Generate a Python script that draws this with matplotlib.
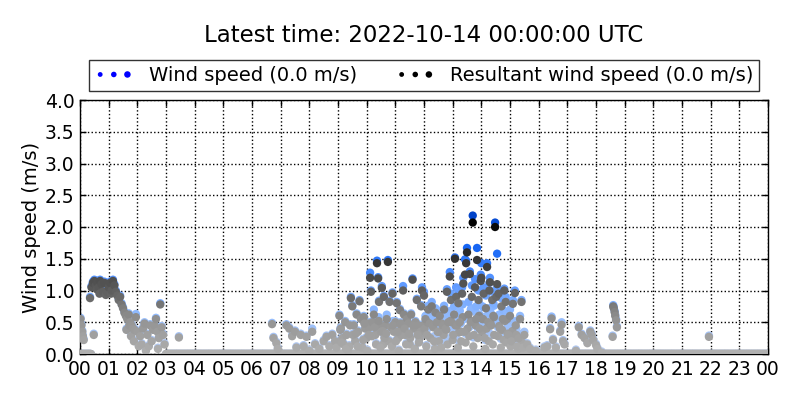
"""
Wind speed / resultant wind speed scatter for one day (UTC), classic look.
"""
import numpy as np
import matplotlib
matplotlib.use('Agg')
import matplotlib.pyplot as plt
from matplotlib.colors import LinearSegmentedColormap, Normalize
from matplotlib.legend_handler import HandlerPathCollection

TITLE = "Latest time: 2022-10-14 00:00:00 UTC"
WS_LABEL = "Wind speed (0.0 m/s)"
RWS_LABEL = "Resultant wind speed (0.0 m/s)"
HOUR_LABELS = ["%02d" % h for h in range(24)] + ["00"]
Y_TICKS = [0.0, 0.5, 1.0, 1.5, 2.0, 2.5, 3.0, 3.5, 4.0]

# calm periods (both speeds 0.0 m/s), start/end hour
calm_start = [0.0, 3.0]
calm_end = [0.4, 24.0]

# 00-03 UTC
night_hour = [0.02, 0.05, 0.08, 0.10, 0.13, 0.35, 0.40, 0.45, 0.48, 0.50,
              0.55, 0.58, 0.60, 0.65, 0.68, 0.70, 0.75, 0.80, 0.85, 0.90,
              0.95, 1.00, 1.05, 1.08, 1.10, 1.15, 1.20, 1.25, 1.30, 1.35,
              1.40, 1.45, 1.50, 1.55, 1.60, 1.62, 1.65, 1.70, 1.72, 1.75,
              1.78, 1.80, 1.85, 1.88, 1.90, 1.95, 2.00, 2.05, 2.10, 2.15,
              2.20, 2.25, 2.30, 2.35, 2.40, 2.45, 2.50, 2.55, 2.60, 2.65,
              2.70, 2.72, 2.75, 2.80, 2.85, 2.90, 2.95]
night_rws = [0.55, 0.45, 0.35, 0.28, 0.22, 0.88, 1.05, 1.12, 0.30, 1.15,
             1.08, 1.02, 1.13, 1.05, 0.95, 1.15, 1.10, 0.98, 1.12, 0.93,
             0.97, 1.05, 1.12, 0.95, 1.00, 1.15, 1.08, 0.98, 0.92, 0.85,
             0.90, 0.78, 0.72, 0.65, 0.60, 0.38, 0.55, 0.62, 0.45, 0.50,
             0.28, 0.45, 0.40, 0.20, 0.38, 0.58, 0.35, 0.12, 0.28, 0.15,
             0.40, 0.48, 0.05, 0.30, 0.12, 0.45, 0.20, 0.38, 0.45, 0.55,
             0.35, 0.08, 0.25, 0.78, 0.42, 0.30, 0.15]
night_ws = [0.57, 0.47, 0.37, 0.30, 0.24, 0.90, 1.07, 1.14, 0.32, 1.17,
            1.10, 1.04, 1.15, 1.07, 0.97, 1.17, 1.12, 1.00, 1.14, 0.95,
            0.99, 1.07, 1.14, 0.97, 1.02, 1.17, 1.10, 1.00, 0.94, 0.87,
            0.92, 0.80, 0.74, 0.67, 0.62, 0.40, 0.57, 0.64, 0.47, 0.52,
            0.30, 0.47, 0.42, 0.22, 0.40, 0.63, 0.37, 0.14, 0.30, 0.17,
            0.42, 0.50, 0.07, 0.32, 0.14, 0.47, 0.22, 0.40, 0.47, 0.57,
            0.37, 0.10, 0.27, 0.80, 0.44, 0.32, 0.17]

# 03-09 UTC
morning_hour = [3.45, 6.70, 6.75, 6.85, 6.90, 7.20, 7.30, 7.40, 7.50, 7.55,
                7.70, 7.80, 7.90, 8.00, 8.10, 8.20, 8.35, 8.50, 8.60, 8.70,
                8.80, 8.90, 8.95]
morning_rws = [0.26, 0.47, 0.25, 0.17, 0.08, 0.45, 0.40, 0.28, 0.35, 0.10,
               0.30, 0.12, 0.27, 0.05, 0.35, 0.15, 0.08, 0.20, 0.27, 0.12,
               0.30, 0.20, 0.10]
morning_ws = [0.28, 0.49, 0.27, 0.19, 0.10, 0.47, 0.42, 0.30, 0.37, 0.12,
              0.32, 0.14, 0.29, 0.07, 0.40, 0.17, 0.10, 0.22, 0.29, 0.14,
              0.32, 0.22, 0.12]

# 09-12 UTC
late_hour = [9.05, 9.10, 9.15, 9.20, 9.25, 9.30, 9.35, 9.40, 9.45, 9.50,
             9.55, 9.60, 9.65, 9.70, 9.75, 9.80, 9.85, 9.90, 9.95, 10.00,
             10.05, 10.10, 10.12, 10.15, 10.20, 10.25, 10.30, 10.36, 10.40, 10.43,
             10.45, 10.50, 10.53, 10.58, 10.60, 10.65, 10.70, 10.74, 10.78, 10.80,
             10.85, 10.90, 10.95, 11.00, 11.05, 11.10, 11.16, 11.20, 11.27, 11.30,
             11.35, 11.40, 11.45, 11.50, 11.55, 11.60, 11.65, 11.70, 11.75, 11.80,
             11.85, 11.90, 11.93, 11.97]
late_rws = [0.60, 0.40, 0.25, 0.15, 0.50, 0.30, 0.05, 0.12, 0.88, 0.75,
            0.45, 0.20, 0.62, 0.35, 0.83, 0.55, 0.10, 0.58, 0.40, 0.25,
            0.48, 0.42, 1.20, 0.98, 0.50, 0.62, 0.30, 1.43, 1.19, 0.82,
            0.45, 0.35, 1.04, 0.15, 0.90, 0.45, 0.55, 1.45, 0.20, 0.82,
            0.42, 0.95, 0.35, 0.50, 0.80, 0.25, 0.69, 0.45, 1.00, 0.62,
            0.30, 0.55, 0.48, 0.15, 0.62, 1.17, 0.40, 0.50, 0.85, 0.45,
            0.25, 0.75, 1.00, 0.45]
late_ws = [0.62, 0.42, 0.27, 0.17, 0.52, 0.32, 0.07, 0.14, 0.90, 0.77,
           0.47, 0.22, 0.64, 0.37, 0.85, 0.57, 0.12, 0.60, 0.42, 0.27,
           0.50, 0.44, 1.28, 1.00, 0.52, 0.70, 0.32, 1.47, 1.21, 0.84,
           0.47, 0.37, 1.07, 0.17, 0.92, 0.47, 0.62, 1.48, 0.22, 0.84,
           0.44, 0.97, 0.37, 0.52, 0.82, 0.27, 0.71, 0.47, 1.07, 0.64,
           0.32, 0.57, 0.50, 0.17, 0.64, 1.19, 0.42, 0.52, 0.87, 0.47,
           0.27, 0.77, 1.05, 0.47]

# 12-15.5 UTC
noon_hour = [12.00, 12.05, 12.10, 12.15, 12.20, 12.27, 12.30, 12.35, 12.40, 12.45,
             12.50, 12.55, 12.60, 12.65, 12.70, 12.75, 12.80, 12.85, 12.90, 12.94,
             12.97, 13.02, 13.05, 13.08, 13.12, 13.15, 13.20, 13.25, 13.30, 13.33,
             13.37, 13.40, 13.43, 13.47, 13.50, 13.55, 13.60, 13.63, 13.67, 13.70,
             13.74, 13.78, 13.82, 13.85, 13.90, 13.94, 13.98, 14.00, 14.04, 14.08,
             14.12, 14.16, 14.20, 14.24, 14.28, 14.30, 14.34, 14.38, 14.42, 14.45,
             14.48, 14.52, 14.55, 14.60, 14.65, 14.70, 14.75, 14.80, 14.85, 14.90,
             14.95, 15.00, 15.05, 15.10, 15.17, 15.20, 15.25, 15.30, 15.35, 15.40,
             15.45, 15.50]
noon_rws = [0.92, 0.55, 0.30, 0.70, 0.48, 0.75, 0.45, 0.20, 0.65, 0.50,
            0.35, 0.60, 0.10, 0.45, 0.70, 0.40, 0.98, 0.50, 1.22, 0.85,
            0.50, 0.30, 0.62, 1.50, 0.90, 0.45, 0.80, 0.50, 0.20, 0.95,
            1.11, 0.35, 1.25, 1.43, 1.60, 0.62, 1.26, 0.50, 0.90, 2.07,
            0.30, 1.05, 0.55, 1.48, 0.85, 0.40, 1.15, 1.20, 0.55, 0.95,
            0.25, 0.72, 1.37, 0.50, 1.00, 1.13, 0.45, 0.85, 0.60, 0.30,
            2.00, 0.90, 1.10, 0.95, 0.40, 0.75, 0.55, 1.00, 0.82, 0.55,
            0.30, 0.60, 0.20, 0.79, 0.96, 0.45, 0.12, 0.25, 0.55, 0.82,
            0.10, 0.30]
noon_ws = [0.98, 0.60, 0.38, 0.76, 0.62, 0.82, 0.58, 0.28, 0.72, 0.62,
           0.45, 0.68, 0.18, 0.58, 0.76, 0.52, 1.02, 0.62, 1.29, 0.95,
           0.62, 0.45, 0.75, 1.52, 1.05, 0.62, 1.00, 0.68, 0.35, 1.05,
           1.20, 0.55, 1.49, 1.47, 1.67, 0.82, 1.30, 0.70, 1.08, 2.18,
           0.48, 1.18, 0.75, 1.67, 1.00, 0.62, 1.25, 1.43, 0.75, 1.05,
           0.45, 0.92, 1.43, 0.72, 1.12, 1.20, 0.62, 0.98, 0.80, 0.50,
           2.07, 1.02, 1.58, 1.02, 0.55, 0.88, 0.70, 1.03, 0.90, 0.65,
           0.42, 0.70, 0.30, 0.85, 1.00, 0.52, 0.20, 0.32, 0.60, 0.85,
           0.15, 0.35]

# extra low readings 09-15.5 UTC
low_hour = [9.12, 9.28, 9.52, 9.68, 9.88, 10.02, 10.18, 10.33, 10.48, 10.62,
            10.88, 11.02, 11.12, 11.22, 11.38, 11.52, 11.68, 11.82, 11.88, 12.08,
            12.22, 12.38, 12.52, 12.68, 12.82, 13.00, 13.18, 13.28, 13.45, 13.58,
            13.72, 13.88, 14.02, 14.14, 14.26, 14.40, 14.58, 14.68, 14.78, 14.88,
            15.02, 15.15, 15.28, 15.42]
low_rws = [0.18, 0.08, 0.30, 0.12, 0.22, 0.05, 0.28, 0.15, 0.10, 0.25,
           0.12, 0.20, 0.05, 0.30, 0.15, 0.25, 0.08, 0.18, 0.35, 0.12,
           0.25, 0.08, 0.20, 0.30, 0.15, 0.22, 0.10, 0.35, 0.18, 0.28,
           0.12, 0.25, 0.35, 0.08, 0.20, 0.15, 0.28, 0.10, 0.22, 0.18,
           0.12, 0.25, 0.08, 0.18]
low_ws = [0.20, 0.10, 0.32, 0.14, 0.24, 0.07, 0.30, 0.17, 0.12, 0.27,
          0.14, 0.22, 0.07, 0.32, 0.17, 0.27, 0.10, 0.20, 0.37, 0.14,
          0.27, 0.10, 0.30, 0.40, 0.25, 0.35, 0.22, 0.48, 0.32, 0.42,
          0.26, 0.40, 0.48, 0.22, 0.34, 0.30, 0.42, 0.24, 0.36, 0.30,
          0.22, 0.34, 0.16, 0.24]

# extra mid readings 09-15.5 UTC
mid_hour = [9.08, 9.42, 9.62, 9.92, 10.08, 10.28, 10.42, 10.56, 10.68, 10.92,
            11.08, 11.18, 11.32, 11.48, 11.62, 11.78, 12.02, 12.12, 12.32, 12.48,
            12.62, 12.78, 12.92, 13.10, 13.22, 13.35, 13.52, 13.65, 13.80, 13.92,
            14.06, 14.18, 14.32, 14.44, 14.62, 14.72, 14.82, 14.92, 15.08, 15.22]
mid_rws = [0.38, 0.45, 0.32, 0.48, 0.30, 0.42, 0.52, 0.36, 0.32, 0.45,
           0.35, 0.48, 0.40, 0.32, 0.45, 0.30, 0.40, 0.50, 0.42, 0.35,
           0.48, 0.38, 0.52, 0.45, 0.34, 0.58, 0.40, 0.52, 0.45, 0.60,
           0.55, 0.40, 0.48, 0.58, 0.44, 0.38, 0.52, 0.32, 0.36, 0.30]
mid_ws = [0.40, 0.47, 0.34, 0.50, 0.32, 0.44, 0.58, 0.38, 0.34, 0.52,
          0.37, 0.50, 0.42, 0.34, 0.47, 0.32, 0.42, 0.52, 0.44, 0.48,
          0.62, 0.54, 0.68, 0.62, 0.52, 0.78, 0.60, 0.72, 0.66, 0.80,
          0.74, 0.60, 0.66, 0.76, 0.62, 0.55, 0.66, 0.45, 0.50, 0.40]

# afternoon 15.5-22 UTC
eve_hour = [15.60, 15.70, 15.90, 16.20, 16.30, 16.40, 16.45, 16.50, 16.60, 16.75,
            16.80, 16.85, 16.90, 17.30, 17.40, 17.50, 17.60, 17.70, 17.80, 17.85,
            17.90, 18.00, 18.05, 18.20, 18.58, 18.60, 18.62, 18.65, 18.67, 18.70,
            18.73, 21.94]
eve_rws = [0.15, 0.08, 0.05, 0.10, 0.12, 0.39, 0.56, 0.22, 0.10, 0.35,
           0.46, 0.20, 0.15, 0.05, 0.42, 0.30, 0.25, 0.17, 0.35, 0.30,
           0.22, 0.14, 0.08, 0.02, 0.27, 0.75, 0.72, 0.66, 0.60, 0.53,
           0.42, 0.27]
eve_ws = [0.17, 0.10, 0.07, 0.12, 0.14, 0.41, 0.59, 0.24, 0.12, 0.37,
          0.50, 0.22, 0.17, 0.07, 0.44, 0.32, 0.27, 0.19, 0.37, 0.32,
          0.24, 0.16, 0.10, 0.04, 0.29, 0.77, 0.74, 0.68, 0.62, 0.55,
          0.44, 0.29]

# assemble
calm_hour = np.concatenate([np.arange(s, e, 1 / 60.0) for s, e in zip(calm_start, calm_end)])
hours = np.concatenate([calm_hour, night_hour, morning_hour, late_hour, low_hour,
                        mid_hour, noon_hour, eve_hour])
ws = np.concatenate([np.zeros(len(calm_hour)), night_ws, morning_ws, late_ws, low_ws,
                     mid_ws, noon_ws, eve_ws])
rws = np.concatenate([np.zeros(len(calm_hour)), night_rws, morning_rws, late_rws, low_rws,
                      mid_rws, noon_rws, eve_rws])

blue_cmap = LinearSegmentedColormap.from_list(
    "ws", [(0.0, "#b8cbee"), (0.3, "#8cb8ff"), (0.55, "#5090ff"),
           (0.75, "#1868f5"), (1.0, "#0042c8")])
gray_cmap = LinearSegmentedColormap.from_list(
    "rws", [(0.0, "#b0b0b0"), (0.25, "#939393"), (0.5, "#585858"), (1.0, "#000000")])
norm_ws = Normalize(0, 2.2)
norm_rws = Normalize(0, 2.1)

fig = plt.figure(figsize=(8, 4), dpi=100, facecolor="white")
ax = fig.add_axes([0.1, 0.115, 0.86, 0.635])
ax.set_axisbelow(True)

ax.scatter(hours, ws, c=ws, cmap=blue_cmap, norm=norm_ws, s=36, linewidths=0, zorder=2)
ax.scatter(hours, rws, c=rws, cmap=gray_cmap, norm=norm_rws, s=36, linewidths=0, zorder=3)

ax.set_xlim(0, 24)
ax.set_ylim(0, 4)
ax.set_xticks(range(25))
ax.set_xticklabels(HOUR_LABELS)
ax.set_yticks(Y_TICKS)
ax.set_yticklabels(["%.1f" % v for v in Y_TICKS])
ax.tick_params(direction="in", top=True, right=True, length=4, width=1,
               labelsize=13.5, pad=4, colors="black")
ax.grid(True, color="black", linestyle=":", linewidth=1)
for sp in ax.spines.values():
    sp.set_linewidth(1)
    sp.set_color("black")
ax.set_ylabel("Wind speed (m/s)", fontsize=14, labelpad=3)

h1 = ax.scatter([], [], color="#0000ff", linewidths=0)
h2 = ax.scatter([], [], color="#000000", linewidths=0)
hm = {h: HandlerPathCollection(sizes=[12, 16, 22]) for h in (h1, h2)}
leg = ax.legend([h1, h2], [WS_LABEL, RWS_LABEL], handler_map=hm, ncol=2,
                loc="lower center", bbox_to_anchor=(0.5, 1.035), fontsize=14,
                scatterpoints=3, scatteryoffsets=[0.5], frameon=True, fancybox=False,
                borderaxespad=0, columnspacing=2.0, handletextpad=0.8,
                handlelength=2.0, borderpad=0.3)
leg.get_frame().set_edgecolor("black")
leg.get_frame().set_linewidth(1)

fig.text(0.53, 0.912, TITLE, ha="center", va="center", fontsize=16.5)

plt.savefig("out.png", dpi=100, facecolor="white")
